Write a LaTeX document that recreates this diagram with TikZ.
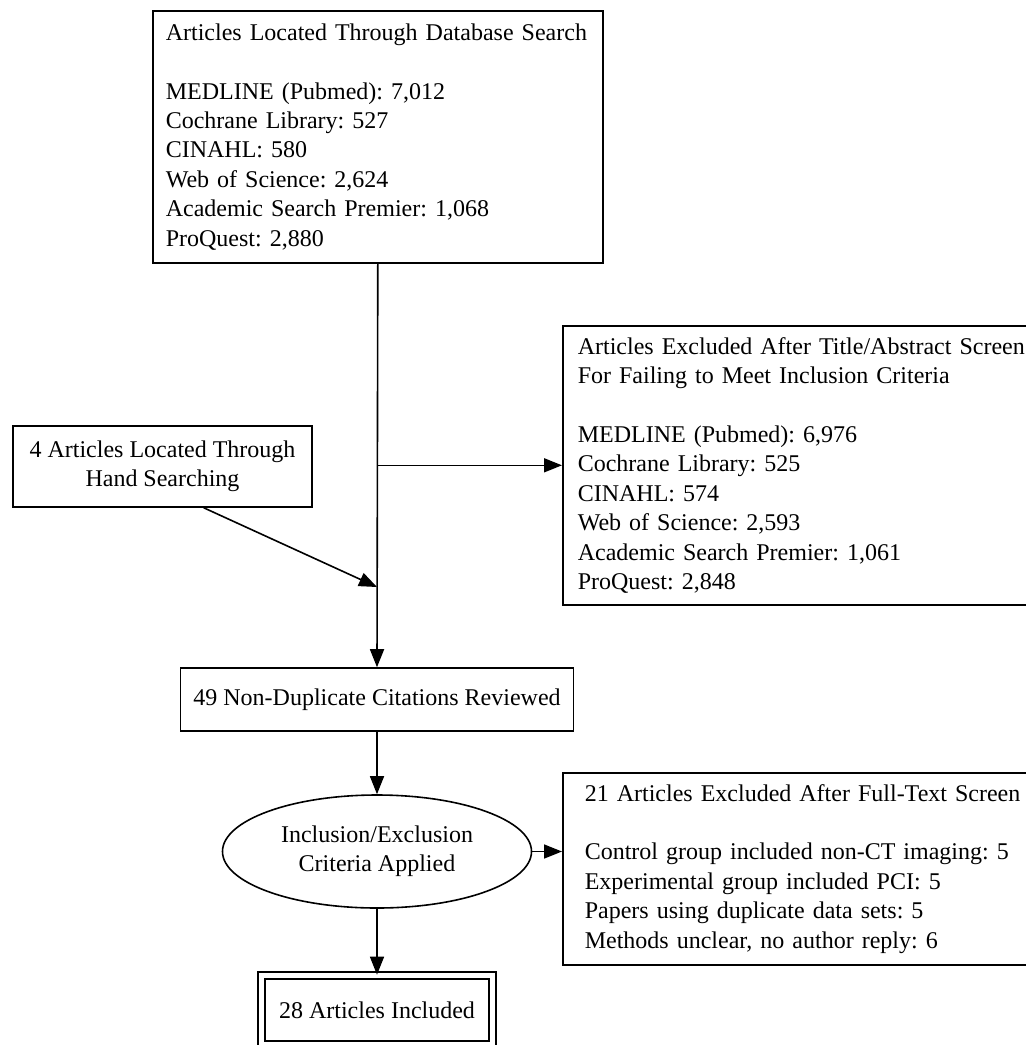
\documentclass[tikz,border=0pt]{standalone}
\usepackage{fontspec}
\setmainfont{Liberation Serif}
\usetikzlibrary{arrows.meta,shapes.geometric}
\frenchspacing

\begin{document}
\begin{tikzpicture}[x=0.5pt,y=-0.5pt,
    box/.style={draw,line width=0.8pt,rectangle,font=\fontsize{12}{14.7}\selectfont},
    listbox/.style={box,align=left,anchor=north west,inner ysep=0pt},
    arr/.style={line width=0.8pt,-{Triangle[length=9pt,width=7pt]}}]

    % Frame
    \clip (0,0) rectangle (1026,1045);

    % Database search
    \node[listbox,minimum width=225pt,minimum height=126pt,inner xsep=6.5pt,text width=212pt]
        (dbsearch) at (152,10) {Articles Located Through Database Search\\[14.7pt]
        MEDLINE (Pubmed): 7,012\\
        Cochrane Library: 527\\
        CINAHL: 580\\
        Web of Science: 2,624\\
        Academic Search Premier: 1,068\\
        ProQuest: 2,880};

    % Excluded after title/abstract screen
    \node[listbox,minimum width=280pt,minimum height=139.5pt,inner xsep=7.5pt,text width=265pt]
        (excl1) at (562,325) {Articles Excluded After Title/Abstract Screen\\
        For Failing to Meet Inclusion Criteria\\[14.7pt]
        MEDLINE (Pubmed): 6,976\\
        Cochrane Library: 525\\
        CINAHL: 574\\
        Web of Science: 2,593\\
        Academic Search Premier: 1,061\\
        ProQuest: 2,848};

    % Hand searching
    \node[box,align=center,minimum width=149.5pt,minimum height=40.5pt]
        (hand) at (162.5,466.5) {4 Articles Located Through\\Hand Searching};

    \node[box,minimum width=196.5pt,minimum height=31.5pt]
        (reviewed) at (377,699.5) {49 Non-Duplicate Citations Reviewed};

    \node[box,ellipse,align=center,inner sep=0pt,minimum width=154.5pt,minimum height=56.5pt]
        (crit) at (377,851.5) {Inclusion/Exclusion\\Criteria Applied};

    % Excluded after full-text screen
    \node[listbox,minimum width=280pt,minimum height=96pt,inner xsep=11pt,text width=258pt]
        (excl2) at (562,772) {21 Articles Excluded After Full-Text Screen\\[14.7pt]
        Control group included non-CT imaging: 5\\
        Experimental group included PCI: 5\\
        Papers using duplicate data sets: 5\\
        Methods unclear, no author reply: 6};

    \node[box,double,double distance=2.7pt,minimum width=115.5pt,minimum height=34.5pt]
        (included) at (377,1010) {28 Articles Included};

    % Connectors
    \coordinate (split) at (dbsearch.south |- excl1.west);
    \coordinate (merge) at (377,587);
    \draw[arr] (dbsearch.south) -- (reviewed.north);
    \draw[arr] (split) -- (excl1.west);
    \draw[arr] (hand.-45) -- (merge);
    \draw[arr] (reviewed) -- (crit);
    \draw[arr] (crit.east) -- (crit.east -| excl2.west);
    \draw[arr] (crit) -- (included);

\end{tikzpicture}
\end{document}
